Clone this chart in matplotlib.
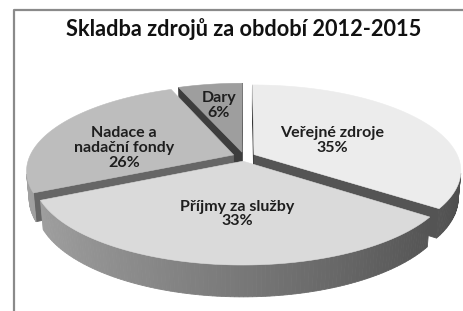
"""Exploded 3D pie: Skladba zdrojů za období 2012-2015."""
import numpy as np
import matplotlib.pyplot as plt
from matplotlib.patches import Polygon

title = "Skladba zdrojů za období 2012-2015"
labels = ["Veřejné zdroje", "Příjmy za služby", "Nadace a\nnadační fondy", "Dary"]
shares = [35, 33, 26, 6]
top_colors = ["#ececec", "#dadada", "#bdbdbd", "#9e9e9e"]

# layout (pixels of a 463x311 canvas) and the 3D view
W, H = 463, 311
CX, CY, SCALE = 244, 156.6, 204
DIST, ELEV = 5.0, np.radians(24)
THICK, EXPLODE = 0.147, 0.055
label_r = [0.432, 0.56, 0.555, 0.66]
label_dang = [3.8, -2.8, -12.7, -0.4]
CAM = np.array([0.0, -DIST * np.cos(ELEV), DIST * np.sin(ELEV)])

plt.rcParams["font.family"] = ["Lato", "DejaVu Sans"]


def project(p):
    x, y, z = p
    depth = DIST + y * np.cos(ELEV) - z * np.sin(ELEV)
    sx = x * DIST / depth
    sy = (y * np.sin(ELEV) + z * np.cos(ELEV)) * DIST / depth
    return (CX + SCALE * sx, CY - SCALE * sy), depth


def poly2d(pts):
    out = [project(p) for p in pts]
    return [o[0] for o in out], np.mean([o[1] for o in out])


fig = plt.figure(figsize=(W / 100, H / 100), dpi=100)
ax = fig.add_axes([0, 0, 1, 1])
ax.set_xlim(0, W)
ax.set_ylim(H, 0)
ax.axis("off")

# chart frame (cut by the picture on right and bottom)
ax.plot([14, 14, W + 5], [H + 5, 10, 10], color="#8a8a8a", lw=1.6, solid_capstyle="butt")

frac = np.array(shares, dtype=float) / sum(shares)
edges = np.concatenate([[0], np.cumsum(frac) * 2 * np.pi])

faces = []
tops = []
for i in range(len(shares)):
    a0, a1 = edges[i], edges[i + 1]
    mid = (a0 + a1) / 2
    ox, oy = EXPLODE * np.sin(mid), EXPLODE * np.cos(mid)
    th = np.linspace(a0, a1, max(8, int(np.degrees(a1 - a0))))
    rim = lambda t, z: np.array([ox + np.sin(t), oy + np.cos(t), z])
    c_top = np.array([ox, oy, 0.0])
    c_bot = np.array([ox, oy, -THICK])

    tops.append(([c_top] + [rim(t, 0) for t in th], top_colors[i]))

    # outer wall, split so the shading can follow the angle
    for t0, t1 in zip(th[:-1], th[1:]):
        tm = (t0 + t1) / 2
        n = np.array([np.sin(tm), np.cos(tm), 0])
        if n @ (CAM - rim(tm, -THICK / 2)) <= 0:
            continue
        g = np.clip(0.47 - 0.17 * np.sin(tm), 0, 1)
        faces.append(([rim(t0, 0), rim(t1, 0), rim(t1, -THICK), rim(t0, -THICK)], (g, g, g)))

    # radial cut faces
    for a, n in ((a0, np.array([-np.cos(a0), np.sin(a0), 0])),
                 (a1, np.array([np.cos(a1), -np.sin(a1), 0]))):
        pm = (c_top + rim(a, -THICK)) / 2
        if n @ (CAM - pm) <= 0:
            continue
        g = np.clip(0.23 + 0.054 * n[0] - 0.1625 * n[1], 0, 1)
        faces.append(([c_top, rim(a, 0), rim(a, -THICK), c_bot], (g, g, g)))

drawn = []
for pts, col in faces:
    xy, d = poly2d(pts)
    drawn.append((d, xy, col))
for d, xy, col in sorted(drawn, key=lambda t: -t[0]):
    ax.add_patch(Polygon(xy, closed=True, facecolor=col, edgecolor=col, lw=0.6))

for pts, col in tops:
    xy, _ = poly2d(pts)
    ax.add_patch(Polygon(xy, closed=True, facecolor=col, edgecolor=col, lw=0.4))

for i, lab in enumerate(labels):
    mid = (edges[i] + edges[i + 1]) / 2
    ang = mid + np.radians(label_dang[i])
    p = np.array([EXPLODE * np.sin(mid) + label_r[i] * np.sin(ang),
                  EXPLODE * np.cos(mid) + label_r[i] * np.cos(ang), 0])
    (px, py), _ = project(p)
    ax.text(px, py, f"{lab}\n{shares[i]}%", ha="center", va="center",
            fontsize=11.5, fontweight="bold", color="#1e1e1e", linespacing=1.09)

ax.text(244, 36, title, ha="center", va="baseline", fontsize=15.7,
        fontweight="bold", color="#111111")

fig.savefig("out.png", dpi=100)
